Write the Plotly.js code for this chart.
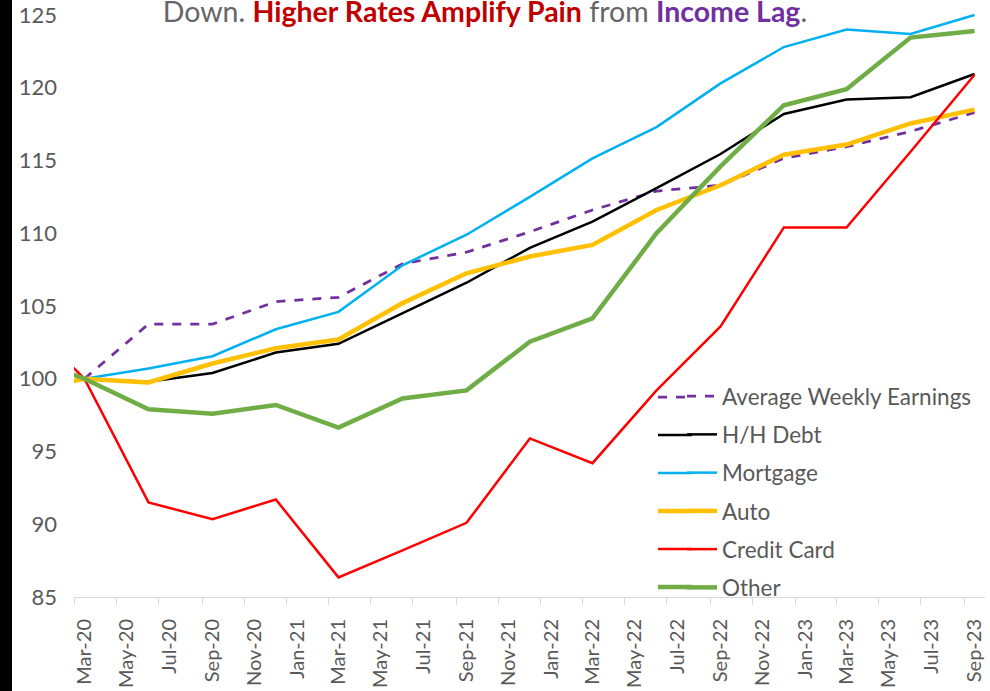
<!DOCTYPE html>
<html>
<head>
<meta charset="utf-8">
<script src="https://cdn.plot.ly/plotly-3.0.1.min.js"></script>
<style>
  html, body { margin: 0; padding: 0; background: #000; width: 990px; height: 691px; overflow: hidden; }
  #chart { position: absolute; left: 12px; top: 0; width: 978px; height: 691px; background: #fff; }
</style>
</head>
<body>
<div id="chart"></div>
<script>
// Quarterly observations (mid-month dates); first one lies left of the visible axis range
const dates = ["2019-12-16","2020-03-16","2020-06-16","2020-09-16","2020-12-16",
               "2021-03-16","2021-06-16","2021-09-16","2021-12-16",
               "2022-03-16","2022-06-16","2022-09-16","2022-12-16",
               "2023-03-16","2023-06-16","2023-09-16"];

const avgWeeklyEarnings = [null, 100, 103.76, 103.76, 105.3, 105.6, 107.9, 108.7, 110.1, 111.6, 112.9, 113.3, 115.15, 115.95, 117.0, 118.3];
const hhDebt            = [null, 100, 99.8, 100.4, 101.8, 102.4, 104.5, 106.6, 109.0, 110.8, 113.1, 115.45, 118.2, 119.2, 119.35, 120.95];
const mortgage          = [null, 100, 100.7, 101.55, 103.4, 104.6, 107.8, 109.9, 112.5, 115.15, 117.3, 120.3, 122.8, 124.0, 123.7, 125.0];
const auto              = [99.1, 100, 99.75, 101.05, 102.1, 102.7, 105.2, 107.25, 108.4, 109.2, 111.6, 113.3, 115.4, 116.1, 117.55, 118.5];
const creditCard        = [104.4, 100, 91.5, 90.35, 91.7, 86.35, 88.2, 90.1, 95.9, 94.2, 99.2, 103.6, 110.4, 110.4, 115.6, 120.9];
const other             = [101.6, 100, 97.9, 97.6, 98.2, 96.65, 98.65, 99.2, 102.55, 104.15, 110.0, 114.6, 118.8, 119.9, 123.45, 123.9];

// Axis tick labels (every two months) and their positions
const tickLabels = ["Mar-20","May-20","Jul-20","Sep-20","Nov-20","Jan-21","Mar-21","May-21","Jul-21","Sep-21","Nov-21",
                    "Jan-22","Mar-22","May-22","Jul-22","Sep-22","Nov-22","Jan-23","Mar-23","May-23","Jul-23","Sep-23"];
const monthNum = {Jan:1,Feb:2,Mar:3,Apr:4,May:5,Jun:6,Jul:7,Aug:8,Sep:9,Oct:10,Nov:11,Dec:12};
function labelToDate(lbl, day) {
  const [m, y] = lbl.split("-");
  const mm = String(monthNum[m]).padStart(2, "0");
  return "20" + y + "-" + mm + "-" + day;
}
const tickMid = tickLabels.map(l => labelToDate(l, "16"));
const tickStart = tickLabels.map(l => labelToDate(l, "01"));

const seriesNames = ["Average Weekly Earnings","H/H Debt","Mortgage","Auto","Credit Card","Other"];
const seriesData = [avgWeeklyEarnings, hhDebt, mortgage, auto, creditCard, other];
const styles = [
  {color:"#7030A0", width:2.75, dash:"dash"},
  {color:"#000000", width:2.5, dash:"solid"},
  {color:"#00B0F0", width:2.5, dash:"solid"},
  {color:"#FFC000", width:4.5, dash:"solid"},
  {color:"#FF0000", width:2.5, dash:"solid"},
  {color:"#70AD47", width:4.5, dash:"solid"}
];

const traces = seriesNames.map((name, i) => ({
  type: "scatter",
  mode: "lines",
  name: name,
  x: dates,
  y: seriesData[i],
  line: styles[i],
  legendgroup: "g" + i,
  connectgaps: false,
  hoverinfo: "x+y+name"
}));

// plot-area geometry (page pixels) used to place the legend sample extensions
const plotL = 74, plotW = 911, plotB = 597, plotH = 584;
const legendTopRow = 397, legendRowGap = 38;
const sampleExt = seriesNames.map((n, i) => {
  const py = legendTopRow + i * legendRowGap;
  return {
    type: "line", xref: "paper", yref: "paper",
    x0: (658 - plotL) / plotW, x1: (692 - plotL) / plotW,
    y0: (plotB - py) / plotH, y1: (plotB - py) / plotH,
    line: {color: styles[i].color, width: styles[i].width, dash: styles[i].dash},
    layer: "above"
  };
});

const gray = "#595959";
const layout = {
  width: 978,
  height: 691,
  margin: {l: 62, r: 5, t: 13, b: 94},
  paper_bgcolor: "#ffffff",
  plot_bgcolor: "#ffffff",
  font: {family: "Lato, 'Open Sans', sans-serif", color: gray, size: 22},
  title: {
    text: "Down. <b><span style='color:#C00000'>Higher Rates Amplify Pain</span></b> from <b><span style='color:#7030A0'>Income Lag</span></b>.",
    font: {family: "Lato, sans-serif", size: 28.5, color: "#666666"},
    x: 0.4836, xanchor: "center", xref: "container",
    y: 1 - 12/691, yanchor: "middle", yref: "container"
  },
  xaxis: {
    type: "date",
    range: ["2020-03-01", "2023-10-01"],
    tickmode: "array",
    tickvals: tickMid,
    ticktext: tickLabels,
    tickangle: -90,
    ticks: "",
    ticklen: 0,
    ticklabelstandoff: 13,
    tickfont: {size: 20, color: gray},
    showline: true,
    linecolor: "#d9d9d9",
    linewidth: 1,
    showgrid: false,
    zeroline: false,
    minor: {tickmode: "array", tickvals: tickStart, ticks: "outside", ticklen: 7, tickcolor: "#d9d9d9", tickwidth: 1, showgrid: false}
  },
  yaxis: {
    range: [85, 125.14],
    tickmode: "array",
    tickvals: [85, 90, 95, 100, 105, 110, 115, 120, 125],
    ticktext: ["85","90","95","100","105","110","115","120","125"],
    ticks: "",
    ticklabelstandoff: 16,
    tickfont: {size: 22, color: gray},
    showline: false,
    showgrid: false,
    zeroline: false
  },
  shapes: sampleExt,
  showlegend: true,
  legend: {
    x: (682 - plotL) / plotW, xanchor: "left",
    y: (plotB - 375) / plotH, yanchor: "top",
    bgcolor: "rgba(0,0,0,0)",
    font: {size: 22.5, color: gray},
    tracegroupgap: 6,
    traceorder: "grouped",
    itemwidth: 30
  }
};

Plotly.newPlot("chart", traces, layout, {displayModeBar: false, staticPlot: true});
</script>
</body>
</html>
